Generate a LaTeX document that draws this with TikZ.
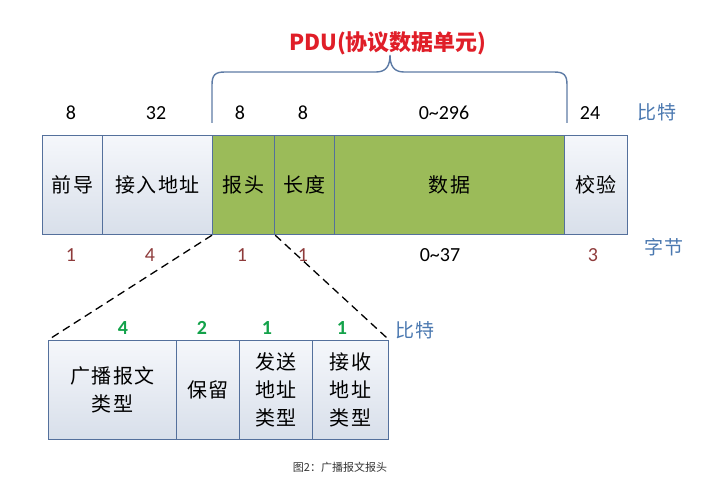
\documentclass[tikz,border=0pt]{standalone}
\usepackage{fontspec}
\setmainfont{Carlito}
\newfontfamily\cjk{Noto Sans CJK SC}
\newfontfamily\cjkbox[LetterSpace=8]{Noto Sans CJK SC}
\definecolor{boxline}{HTML}{54709C}
\definecolor{pdugreen}{HTML}{9BBB59}
\definecolor{lighttop}{HTML}{F5F7FB}
\definecolor{lightbot}{HTML}{D8DFEA}
\definecolor{titlered}{HTML}{E01E28}
\definecolor{bracecol}{HTML}{5D7BA5}
\definecolor{unitcol}{HTML}{4A78B0}
\definecolor{bytecol}{HTML}{8E3B3B}
\definecolor{bitgreen}{HTML}{13A24A}
\tikzset{
  cell/.style={draw=boxline, line width=1.2pt, anchor=north west, minimum height=99pt, inner sep=0pt,
    font=\cjkbox\fontsize{20}{28}\selectfont, align=center},
  lightcell/.style={cell, top color=lighttop, bottom color=lightbot},
  greencell/.style={cell, fill=pdugreen},
  bitnum/.style={font=\fontsize{20}{22}\selectfont, text=black},
  bytenum/.style={font=\fontsize{20}{22}\selectfont, text=bytecol},
  subnum/.style={font=\bfseries\fontsize{20}{22}\selectfont, text=bitgreen},
  unit/.style={font=\cjkbox\fontsize{19}{22}\selectfont, text=unitcol},
  zoomline/.style={draw=black, line width=1.3pt, dash pattern=on 8pt off 5pt},
  bracestyle/.style={draw=bracecol, line width=1.4pt}
}
\begin{document}
\begin{tikzpicture}[x=1pt,y=-1pt]
\useasboundingbox (0,0) rectangle (717,486);
% title
\node[font=\cjk\bfseries\fontsize{22}{26}\selectfont, text=titlered] (title) at (388,43) {PDU(协议数据单元)};
% brace
\coordinate (bl) at (212,123);
\coordinate (br) at (567,123);
\coordinate (tip) at (390,55);
\draw[bracestyle] (bl) -- (212,85) .. controls (212,75) and (215,72) .. (225,72) -- (376,72)
  .. controls (386,72) and (390,66) .. (tip)
  .. controls (390,66) and (394,72) .. (404,72) -- (554,72)
  .. controls (564,72) and (567,75) .. (567,85) -- (br);
% bit counts
\node[bitnum] (b1) at (71,113) {8};
\node[bitnum] (b2) at (156,113) {32};
\node[bitnum] (b3) at (240,113) {8};
\node[bitnum] (b4) at (303,113) {8};
\node[bitnum] (b5) at (444,113) {0\char"7E 296};
\node[bitnum] (b6) at (590,113) {24};
\node[unit] (u1) at (657,112) {比特};
% top row
\node[lightcell, minimum width=60pt] (pre) at (42,135) {前导};
\node[lightcell, minimum width=110pt] (addr) at (102,135) {接入地址};
\node[greencell, minimum width=62pt] (hdr) at (212,135) {报头};
\node[greencell, minimum width=60pt] (len) at (274,135) {长度};
\node[greencell, minimum width=230pt] (data) at (334,135) {数据};
\node[lightcell, minimum width=63pt] (crc) at (564,135) {校验};
% byte counts
\node[bytenum] (y1) at (71,255) {1};
\node[bytenum] (y2) at (150,255) {4};
\node[bytenum] (y3) at (242,255) {1};
\node[bytenum] (y4) at (303,255) {1};
\node[bitnum] (y5) at (440,255) {0\char"7E 37};
\node[bytenum] (y6) at (593,255) {3};
\node[unit] (u2) at (664,247) {字节};
% lower row
\node[lightcell, minimum width=128pt] (typ) at (48,340) {广播报文\\类型};
\node[lightcell, minimum width=63pt] (res) at (176,340) {保留};
\node[lightcell, minimum width=73pt] (snd) at (239,340) {发送\\地址\\类型};
\node[lightcell, minimum width=76pt] (rcv) at (312,340) {接收\\地址\\类型};
% zoom lines
\draw[zoomline] (hdr.south west) -- (typ.north west);
\draw[zoomline] (hdr.south east) -- (rcv.north east);
% sub bit counts
\node[subnum] (s1) at (123,328) {4};
\node[subnum] (s2) at (202,328) {2};
\node[subnum] (s3) at (267,328) {1};
\node[subnum] (s4) at (342,328) {1};
\node[unit] (u3) at (415,330) {比特};
% caption
\node[font=\cjk\fontsize{11}{13}\selectfont, text=black!80] (cap) at (340,467) {图2：广播报文报头};
\end{tikzpicture}
\end{document}
